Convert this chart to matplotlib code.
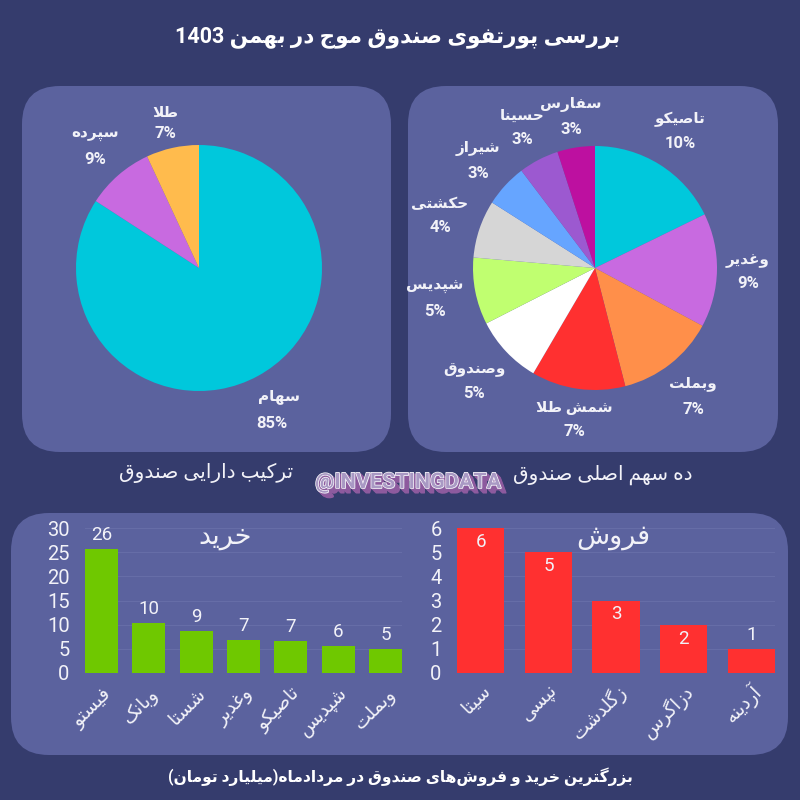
import re
import matplotlib
matplotlib.use('Agg')
import matplotlib.pyplot as plt
import matplotlib.patheffects as pe
from matplotlib.patches import FancyBboxPatch
from matplotlib.transforms import ScaledTranslation

plt.rcParams['font.family'] = ['Roboto', 'DejaVu Sans']

BG = '#353c6d'
PANEL = '#5b629e'
GRID = '#666da7'
TEXT = '#f2f2f8'

# fund composition
asset_names = ['سهام', 'سپرده', 'طلا']
asset_values = [85, 9, 7]
asset_labels = ['85%', '9%', '7%']
asset_colors = ['#00c8dc', '#c86ae0', '#ffbb4d']

# top ten holdings
stock_names = ['تاصیکو', 'وغدیر', 'وبملت', 'شمش طلا', 'وصندوق', 'شپدیس', 'حکشتی', 'شیراز', 'حسینا', 'سفارس']
stock_values = [10, 8.5, 7.4, 7.0, 5.1, 5.0, 4.3, 3.2, 3.0, 2.8]
stock_labels = ['10%', '9%', '7%', '7%', '5%', '5%', '4%', '3%', '3%', '3%']
stock_colors = ['#00c8dc', '#c86ae0', '#ff8f4a', '#ff3030', '#ffffff',
                '#c0ff70', '#d6d6d6', '#66a5ff', '#9c59d0', '#bd10a0']

# buys and sells
buy_names = ['فیستو', 'وبانک', 'شستا', 'وغدیر', 'تاصیکو', 'شپدیس', 'وبملت']
buy_values = [25.7, 10.4, 8.7, 6.9, 6.6, 5.6, 5.0]
buy_labels = ['26', '10', '9', '7', '7', '6', '5']
sell_names = ['سیتا', 'نپسی', 'زگلدشت', 'دزاگرس', 'آردینه']
sell_values = [6, 5, 3, 2, 1]
sell_labels = ['6', '5', '3', '2', '1']

# label centres in pixels (name x, name y, percent x, percent y)
asset_pos = [(279, 397, 272, 423), (95, 134, 95, 160), (165, 113, 165, 133)]
stock_pos = [(680, 119, 680, 143), (748, 261, 748, 284), (693, 384, 693, 409),
             (574, 408, 574, 432), (474, 370, 474, 393), (435, 287, 435, 312),
             (440, 204, 440, 228), (478, 149, 478, 173), (522, 116, 522, 140),
             (571, 105, 571, 129)]

# matplotlib does no arabic shaping, so map letters to presentation forms
FORMS4 = {'ئ': 0xFE89, 'ب': 0xFE8F, 'ت': 0xFE95, 'ث': 0xFE99, 'ج': 0xFE9D, 'ح': 0xFEA1,
          'خ': 0xFEA5, 'س': 0xFEB1, 'ش': 0xFEB5, 'ص': 0xFEB9, 'ض': 0xFEBD, 'ط': 0xFEC1,
          'ظ': 0xFEC5, 'ع': 0xFEC9, 'غ': 0xFECD, 'ف': 0xFED1, 'ق': 0xFED5, 'ل': 0xFEDD,
          'م': 0xFEE1, 'ن': 0xFEE5, 'ه': 0xFEE9, 'پ': 0xFB56, 'چ': 0xFB7A, 'ک': 0xFB8E,
          'گ': 0xFB92, 'ی': 0xFBFC}
FORMS2 = {'آ': 0xFE81, 'ا': 0xFE8D, 'د': 0xFEA9, 'ذ': 0xFEAB, 'ر': 0xFEAD, 'ز': 0xFEAF,
          'ژ': 0xFB8A, 'و': 0xFEED}


def shape(text):
    # lam + alef ligatures are handled first
    chars = list(text)
    out = []
    i = 0
    while i < len(chars):
        c = chars[i]
        prev = chars[i - 1] if i > 0 else ''
        nxt = chars[i + 1] if i + 1 < len(chars) else ''
        joins_prev = prev in FORMS4
        if c == 'ل' and nxt in ('ا', 'آ'):
            base = 0xFEFB if nxt == 'ا' else 0xFEF5
            out.append(chr(base + (1 if joins_prev else 0)))
            i += 2
            continue
        if c in FORMS4:
            joins_next = nxt in FORMS4 or nxt in FORMS2
            if joins_prev and joins_next:
                out.append(chr(FORMS4[c] + 3))
            elif joins_next:
                out.append(chr(FORMS4[c] + 2))
            elif joins_prev:
                out.append(chr(FORMS4[c] + 1))
            else:
                out.append(chr(FORMS4[c]))
        elif c in FORMS2:
            out.append(chr(FORMS2[c] + (1 if joins_prev else 0)))
        elif c == '\u200c':
            pass
        else:
            out.append(c)
        i += 1
    rev = ''.join(out)[::-1]
    rev = rev.translate(str.maketrans('()', ')('))
    return re.sub(r'[0-9]+', lambda m: m.group(0)[::-1], rev)


def px_box(x0, y0, x1, y1):
    return [x0 / 800, 1 - y1 / 800, (x1 - x0) / 800, (y1 - y0) / 800]


def panel(ax, x0, y0, x1, y1, r):
    ax.add_patch(FancyBboxPatch((x0 + r, y0 + r), x1 - x0 - 2 * r, y1 - y0 - 2 * r,
                                boxstyle=f'round,pad={r},rounding_size={r}',
                                fc=PANEL, ec='none'))


def draw_pie(box, values, colors):
    ax = fig.add_axes(px_box(*box), zorder=2)
    ax.pie(values, colors=colors, startangle=90, counterclock=False, radius=1)
    ax.set_xlim(-1, 1)
    ax.set_ylim(-1, 1)
    return ax


def draw_bars(box, values, names, labels, color, ymax, step, inside, shift):
    ax = fig.add_axes(px_box(*box), zorder=2)
    ax.patch.set_alpha(0)
    pos = list(range(len(values)))
    ax.bar(pos, values, width=0.7, color=color, zorder=3)
    ax.set_xlim(-0.35, len(values) - 1 + 0.35)
    ax.set_ylim(0, ymax)
    ax.set_yticks(range(0, ymax + 1, step))
    ax.yaxis.grid(True, color=GRID, lw=0.8, zorder=0)
    ax.set_axisbelow(True)
    for s in ax.spines.values():
        s.set_visible(False)
    ax.tick_params(axis='y', length=0, pad=11, labelsize=14.5, labelcolor=TEXT)
    ax.tick_params(axis='x', length=0, pad=11)
    ax.set_xticks(pos)
    ax.set_xticklabels([shape(n) for n in names], rotation=45, ha='right', va='center',
                       rotation_mode='anchor', fontsize=13.5, color=TEXT)
    offset = ScaledTranslation(shift[0] / 100, shift[1] / 100, fig.dpi_scale_trans)
    for lab in ax.get_xticklabels():
        lab.set_transform(lab.get_transform() + offset)
    for p, v, lab in zip(pos, values, labels):
        off = -10 if inside(v) else 10
        ax.annotate(lab, (p, v), xytext=(0, off), textcoords='offset points',
                    ha='center', va='center', fontsize=13.5, color=TEXT, zorder=4)
    return ax


fig = plt.figure(figsize=(8, 8), dpi=100, facecolor=BG)
bg = fig.add_axes([0, 0, 1, 1], zorder=1)
bg.set_xlim(0, 800)
bg.set_ylim(800, 0)
bg.axis('off')

panel(bg, 22, 86, 391, 452, 38)
panel(bg, 408, 86, 778, 452, 38)
panel(bg, 11, 513, 788, 755, 38)

draw_pie((76, 145, 322, 391), asset_values, asset_colors)
draw_pie((473, 146, 717, 390), stock_values, stock_colors)

for name, lab, (nx, ny, lx, ly) in zip(asset_names, asset_labels, asset_pos):
    bg.text(nx, ny, shape(name), ha='center', va='center', fontsize=11, fontweight='bold', color=TEXT)
    bg.text(lx, ly, lab, ha='center', va='center', fontsize=12, fontweight='bold', color=TEXT)
for name, lab, (nx, ny, lx, ly) in zip(stock_names, stock_labels, stock_pos):
    bg.text(nx, ny, shape(name), ha='center', va='center', fontsize=11, fontweight='bold', color=TEXT)
    bg.text(lx, ly, lab, ha='center', va='center', fontsize=12, fontweight='bold', color=TEXT)

draw_bars((85, 528, 402, 673), buy_values, buy_names, buy_labels, '#6fc800', 30, 5,
          lambda v: False, (7, -3))
draw_bars((457, 528, 775, 673), sell_values, sell_names, sell_labels, '#ff3030', 6, 1,
          lambda v: v > 1, (7, 0))

bg.text(398, 37, shape('بررسی پورتفوی صندوق موج در بهمن 1403'), ha='center', va='center',
        fontsize=15.5, fontweight='bold', color='white')
bg.text(206, 473, shape('ترکیب دارایی صندوق'), ha='center', va='center', fontsize=14.5, color=TEXT)
bg.text(603, 475, shape('ده سهم اصلی صندوق'), ha='center', va='center', fontsize=14.5, color=TEXT)
bg.text(400, 777, shape('بزرگترین خرید و فروش\u200cهای صندوق در مردادماه(میلیارد تومان)'),
        ha='center', va='center', fontsize=11.2, fontweight='bold', color='white')
title_ax = fig.add_axes([0, 0, 1, 1], zorder=3)
title_ax.set_xlim(0, 800)
title_ax.set_ylim(800, 0)
title_ax.axis('off')
title_ax.text(225, 536, shape('خرید'), ha='center', va='center', fontsize=19.5, color=TEXT)
title_ax.text(613, 536, shape('فروش'), ha='center', va='center', fontsize=19.5, color=TEXT)

# watermark, the 3d shadow is done with offset strokes on one text
shadow = [pe.Stroke(linewidth=1, foreground='#8d5a9e', offset=(d, -d)) for d in (3.5, 3, 2.5, 2, 1.5, 1)]
title_ax.text(408, 482, '@INVESTINGDATA', ha='center', va='center', fontsize=15.5,
              fontweight='bold', color='#a999c4',
              path_effects=shadow + [pe.withStroke(linewidth=1, foreground='white')])

fig.savefig('out.png', dpi=100, facecolor=BG)
